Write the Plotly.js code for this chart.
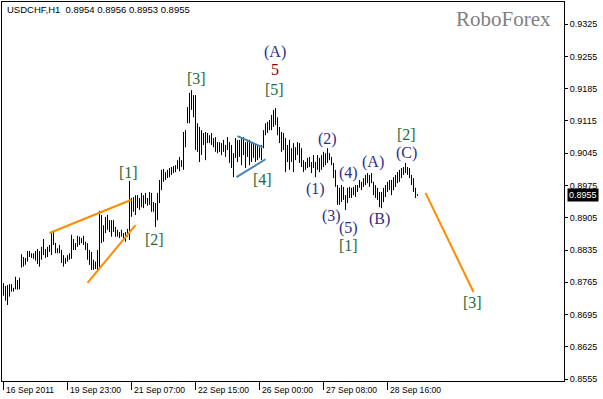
<!DOCTYPE html>
<html><head><meta charset="utf-8">
<script src="https://cdn.plot.ly/plotly-3.0.1.min.js"></script>
<style>html,body{margin:0;padding:0;background:#fff;overflow:hidden}#chart{width:603px;height:399px}</style>
</head><body><div id="chart"></div>
<script>
// ---- data ----
const headerText = 'USDCHF,H1  0.8954 0.8956 0.8953 0.8955';
const brandText = 'RoboForex';
const tickBars = [0, 32, 64, 96, 128, 160, 192];
const tickLabels = ['16 Sep 2011', '19 Sep 23:00', '21 Sep 07:00', '22 Sep 15:00', '26 Sep 00:00', '27 Sep 08:00', '28 Sep 16:00'];
const priceTicks = [0.8555, 0.8625, 0.8695, 0.8765, 0.8835, 0.8905, 0.8975, 0.9045, 0.9115, 0.9185, 0.9255, 0.9325];
const lastPrice = 0.8955;

const high = [
.8763,.8757,.8759,.8761,.8761,.8753,.8777,.8770,.8775,.8826,
.8820,.8818,.8833,.8833,.8828,.8828,.8833,.8837,.8833,.8842,
.8859,.8837,.8842,.8846,.8872,.8874,.8850,.8839,.8846,.8835,
.8824,.8818,.8824,.8828,.8868,.8859,.8850,.8866,.8864,.8861,
.8866,.8853,.8850,.8835,.8831,.8814,.8810,.8835,.8920,.8911,
.8889,.8907,.8911,.8900,.8900,.8900,.8885,.8879,.8874,.8879,
.8872,.8874,.8881,.8985,.8948,.8950,.8954,.8954,.8948,.8959,
.8954,.8959,.8948,.8961,.8959,.8939,.8937,.8959,.8987,.9009,
.9011,.9004,.9009,.9013,.9015,.9017,.9019,.9030,.9037,.9030,
.9091,.9095,.9145,.9176,.9182,.9171,.9171,.9110,.9102,.9095,
.9089,.9091,.9089,.9084,.9089,.9078,.9080,.9069,.9069,.9067,
.9074,.9063,.9080,.9069,.9063,.9045,.9078,.9074,.9074,.9080,
.9080,.9069,.9074,.9074,.9067,.9067,.9063,.9063,.9058,.9063,
.9095,.9110,.9113,.9117,.9128,.9139,.9143,.9123,.9102,.9091,
.9089,.9078,.9063,.9074,.9056,.9067,.9058,.9069,.9067,.9056,
.9030,.9026,.9035,.9037,.9026,.9041,.9026,.9041,.9035,.9041,
.9048,.9045,.9056,.9045,.9037,.9024,.9009,.8976,.8970,.8976,
.8972,.8954,.8970,.8972,.8970,.8972,.8976,.8976,.8987,.8983,
.8991,.8998,.9002,.8998,.9002,.8983,.8976,.8970,.8961,.8961,
.8970,.8976,.8983,.8987,.8987,.8993,.8998,.9004,.9009,.9013,
.9015,.9024,.9015,.9013,.8998,.8991,.8970,.8956];

const low = [
.8736,.8725,.8716,.8734,.8745,.8745,.8750,.8749,.8750,.8797,
.8799,.8803,.8810,.8820,.8818,.8816,.8812,.8805,.8799,.8814,
.8824,.8818,.8820,.8831,.8824,.8846,.8828,.8828,.8828,.8807,
.8799,.8805,.8810,.8814,.8816,.8835,.8835,.8842,.8846,.8850,
.8846,.8835,.8814,.8803,.8792,.8792,.8794,.8788,.8797,.8850,
.8853,.8872,.8879,.8874,.8864,.8874,.8864,.8864,.8861,.8864,
.8857,.8853,.8864,.8857,.8907,.8918,.8911,.8926,.8922,.8928,
.8926,.8935,.8931,.8933,.8918,.8918,.8885,.8900,.8937,.8965,
.8983,.8987,.8991,.8993,.8998,.9002,.9004,.9011,.9006,.9015,
.9009,.9058,.9110,.9110,.9139,.9123,.9052,.9048,.9026,.9041,
.9063,.9030,.9067,.9067,.9063,.9058,.9048,.9045,.9048,.9041,
.9048,.9037,.9052,.9024,.9013,.8993,.9035,.9026,.9037,.9019,
.9041,.9013,.9037,.9019,.9026,.9035,.9026,.9030,.9035,.9030,
.9056,.9084,.9089,.9095,.9095,.9102,.9106,.9084,.9067,.9048,
.9052,.9004,.9026,.9009,.9026,.9004,.9030,.9041,.9024,.9015,
.9004,.9009,.9013,.9015,.9002,.9013,.8993,.9009,.9004,.9009,
.9015,.9019,.9024,.9030,.9019,.8991,.8972,.8933,.8933,.8939,
.8944,.8922,.8937,.8948,.8948,.8954,.8950,.8961,.8970,.8965,
.8972,.8976,.8980,.8972,.8980,.8954,.8948,.8944,.8928,.8926,
.8939,.8950,.8961,.8965,.8954,.8965,.8972,.8980,.8983,.8991,
.8998,.9002,.8998,.8991,.8976,.8961,.8948,.8953];

const open = [
.8750,.8745,.8740,.8750,.8748,.8752,.8752,.8768,.8762,.8800,
.8812,.8808,.8815,.8825,.8826,.8822,.8824,.8820,.8815,.8828,
.8835,.8830,.8832,.8838,.8840,.8860,.8850,.8835,.8833,.8835,
.8812,.8808,.8812,.8818,.8822,.8855,.8845,.8848,.8858,.8855,
.8856,.8850,.8838,.8818,.8808,.8800,.8805,.8800,.8810,.8895,
.8870,.8880,.8895,.8890,.8885,.8890,.8880,.8870,.8868,.8866,
.8870,.8862,.8868,.8875,.8935,.8925,.8940,.8930,.8945,.8935,
.8950,.8940,.8946,.8940,.8950,.8925,.8925,.8900,.8950,.8980,
.8995,.8995,.8998,.9003,.9005,.9010,.9012,.9015,.9025,.9020,
.9025,.9080,.9112,.9135,.9160,.9150,.9165,.9070,.9095,.9060,
.9080,.9075,.9080,.9075,.9080,.9070,.9065,.9060,.9055,.9062,
.9055,.9062,.9055,.9068,.9035,.9025,.9040,.9060,.9050,.9065,
.9045,.9060,.9040,.9055,.9040,.9045,.9050,.9040,.9045,.9042,
.9060,.9090,.9100,.9105,.9110,.9120,.9130,.9115,.9090,.9075,
.9060,.9070,.9040,.9050,.9035,.9045,.9050,.9045,.9060,.9035,
.9020,.9012,.9020,.9025,.9022,.9020,.9025,.9015,.9030,.9025,
.9035,.9040,.9035,.9045,.9035,.9020,.8998,.8975,.8945,.8955,
.8950,.8950,.8940,.8955,.8962,.8960,.8965,.8968,.8975,.8980,
.8978,.8985,.8990,.8995,.8990,.8980,.8965,.8955,.8950,.8940,
.8950,.8960,.8970,.8975,.8980,.8975,.8985,.8990,.8998,.9002,
.9008,.9010,.9012,.9005,.8995,.8985,.8965,.8954];

const close = [
.8745,.8740,.8750,.8748,.8752,.8750,.8768,.8762,.8770,.8812,
.8808,.8815,.8825,.8826,.8822,.8824,.8820,.8815,.8828,.8835,
.8830,.8832,.8838,.8840,.8860,.8850,.8835,.8833,.8836,.8812,
.8808,.8812,.8818,.8822,.8855,.8845,.8848,.8858,.8855,.8856,
.8850,.8838,.8818,.8808,.8800,.8805,.8800,.8810,.8895,.8870,
.8880,.8895,.8890,.8885,.8890,.8880,.8870,.8868,.8866,.8870,
.8862,.8868,.8875,.8935,.8925,.8940,.8930,.8945,.8935,.8950,
.8940,.8952,.8940,.8950,.8925,.8925,.8900,.8950,.8980,.8995,
.8995,.8998,.9003,.9005,.9010,.9012,.9015,.9025,.9020,.9025,
.9080,.9085,.9135,.9160,.9150,.9165,.9070,.9095,.9060,.9080,
.9075,.9080,.9075,.9080,.9070,.9065,.9060,.9055,.9062,.9055,
.9065,.9045,.9068,.9035,.9025,.9040,.9060,.9050,.9065,.9040,
.9060,.9030,.9055,.9040,.9045,.9050,.9040,.9045,.9042,.9055,
.9090,.9100,.9105,.9110,.9120,.9130,.9115,.9090,.9075,.9060,
.9070,.9040,.9050,.9035,.9045,.9050,.9045,.9060,.9035,.9020,
.9012,.9020,.9025,.9022,.9020,.9030,.9015,.9030,.9025,.9035,
.9040,.9035,.9045,.9035,.9025,.8998,.8980,.8945,.8955,.8950,
.8960,.8935,.8955,.8962,.8958,.8965,.8968,.8972,.8980,.8975,
.8985,.8990,.8995,.8990,.8985,.8965,.8955,.8950,.8940,.8950,
.8960,.8970,.8975,.8980,.8975,.8985,.8990,.8998,.9002,.9008,
.9010,.9012,.9005,.8995,.8985,.8965,.8954,.8955];

// wave-analysis lines (bar index, price)
const wedgeUpperX = [23, 64],   wedgeUpperY = [0.8872, 0.8944];
const wedgeLowerX = [42, 66],   wedgeLowerY = [0.8764, 0.8889];
const triUpperX = [117, 129.5], triUpperY = [0.9082, 0.9058];
const triLowerX = [116.5, 131], triLowerY = [0.8993, 0.9032];
const forecastX = [211, 235],   forecastY = [0.8959, 0.8744];

// ---- build ----
const barIdx = high.map((_, i) => i);
const BLACK = '#000';
const ORANGE = '#FF8C00';
const BLUE = '#4682B4';

const traces = [
  {type: 'ohlc', x: barIdx, open: open, high: high, low: low, close: close,
   increasing: {line: {color: BLACK, width: 1}}, decreasing: {line: {color: BLACK, width: 1}},
   tickwidth: 0.2, hoverinfo: 'skip', showlegend: false},
  {type: 'scatter', mode: 'lines', x: wedgeUpperX, y: wedgeUpperY, line: {color: ORANGE, width: 2}, hoverinfo: 'skip', showlegend: false},
  {type: 'scatter', mode: 'lines', x: wedgeLowerX, y: wedgeLowerY, line: {color: ORANGE, width: 2}, hoverinfo: 'skip', showlegend: false},
  {type: 'scatter', mode: 'lines', x: triUpperX, y: triUpperY, line: {color: BLUE, width: 2}, hoverinfo: 'skip', showlegend: false},
  {type: 'scatter', mode: 'lines', x: triLowerX, y: triLowerY, line: {color: BLUE, width: 2}, hoverinfo: 'skip', showlegend: false},
  {type: 'scatter', mode: 'lines', x: forecastX, y: forecastY, line: {color: ORANGE, width: 2}, hoverinfo: 'skip', showlegend: false}
];

// plot box in pixels
const L = 2, T = 2, W = 562, H = 379;
const px = x => (x - L) / W;
const py = y => (T + H - y) / H;

const GREEN = '#1E6B3A', NAVY = '#2E2E8A', RED = '#8B0000';
const waveLabels = [
  ['(A)', 274.5, 52, NAVY], ['5', 274.5, 70, RED], ['[5]', 274.5, 89, GREEN],
  ['[3]', 196.5, 78, GREEN], ['[4]', 262, 179, GREEN],
  ['[1]', 128.5, 172, GREEN], ['[2]', 154.5, 239, GREEN],
  ['(2)', 327, 139, NAVY], ['(1)', 315, 189, NAVY], ['(4)', 348, 173, NAVY],
  ['(3)', 331.5, 216, NAVY], ['(5)', 348.5, 227.5, NAVY], ['[1]', 348, 245, GREEN],
  ['(A)', 372.5, 161.5, NAVY], ['(B)', 379.5, 219.5, NAVY], ['(C)', 406, 153, NAVY],
  ['[2]', 406, 134.5, GREEN], ['[3]', 472, 302, GREEN]
];

const annotations = waveLabels.map(([t, x, y, c]) => ({
  text: t, xref: 'paper', yref: 'paper', x: px(x), y: py(y),
  xanchor: 'center', yanchor: 'middle', showarrow: false,
  font: {family: 'Liberation Serif', size: 16, color: c}
}));

annotations.push({text: headerText, xref: 'paper', yref: 'paper', x: px(5), y: py(10),
  xanchor: 'left', yanchor: 'middle', showarrow: false,
  font: {family: 'Liberation Sans', size: 9.5, color: '#000'}});
annotations.push({text: brandText, xref: 'paper', yref: 'paper', x: px(553), y: py(19),
  xanchor: 'right', yanchor: 'middle', showarrow: false,
  font: {family: 'Liberation Serif', size: 21, color: '#808080'}});

tickBars.forEach((b, i) => annotations.push({
  text: tickLabels[i], xref: 'x', yref: 'paper', x: b, y: py(390),
  xanchor: 'left', yanchor: 'middle', xshift: 0, showarrow: false,
  font: {family: 'Liberation Sans', size: 8.6, color: '#000'}
}));

annotations.push({text: lastPrice.toFixed(4), xref: 'paper', yref: 'y', x: 1, y: lastPrice,
  xanchor: 'left', yanchor: 'middle', xshift: 3, showarrow: false, bgcolor: '#000', borderpad: 1,
  font: {family: 'Liberation Sans', size: 9, color: '#fff'}});

const layout = {
  width: 603, height: 399,
  margin: {l: L, r: 603 - L - W, t: T, b: 399 - T - H, pad: 0},
  paper_bgcolor: '#fff', plot_bgcolor: '#fff',
  showlegend: false,
  xaxis: {
    type: 'linear', range: [-0.75, 280.25], rangeslider: {visible: false},
    showgrid: false, zeroline: false, showline: true, mirror: true, linecolor: '#000', linewidth: 1,
    tickmode: 'array', tickvals: tickBars, ticktext: tickLabels.map(() => ''),
    ticks: 'outside', ticklen: 8, tickcolor: '#000', tickwidth: 1, fixedrange: true
  },
  yaxis: {
    side: 'right', range: [0.8551, 0.9373],
    showgrid: false, zeroline: false, showline: true, mirror: true, linecolor: '#000', linewidth: 1,
    tickmode: 'array', tickvals: priceTicks, ticktext: priceTicks.map(v => v.toFixed(4)),
    ticks: 'outside', ticklen: 3, tickcolor: '#000', tickwidth: 1,
    tickfont: {family: 'Liberation Sans', size: 9, color: '#000'}, fixedrange: true
  },
  annotations: annotations
};

Plotly.newPlot('chart', traces, layout, {staticPlot: true, displayModeBar: false});
</script>
</body></html>
